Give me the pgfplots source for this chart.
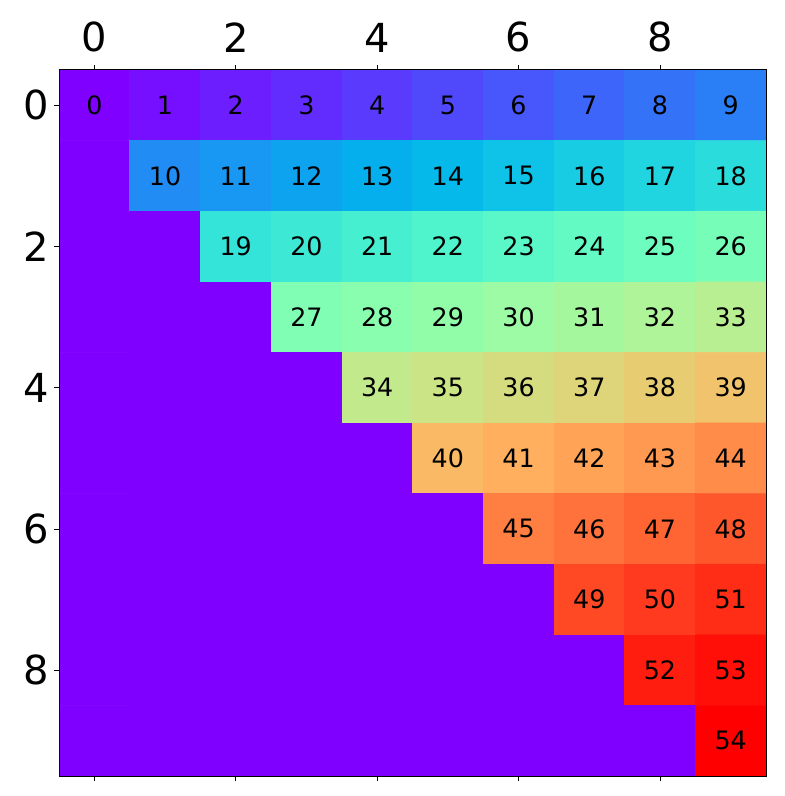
\documentclass[border=0pt]{standalone}
\usepackage{pgfplots}
\pgfplotsset{compat=1.18}
\usepackage{pgfplotstable}
\usepackage{fontspec}
\setmainfont{DejaVu Sans}

\pgfplotstableread{
x y c
0 0 0
1 0 1
2 0 2
3 0 3
4 0 4
5 0 5
6 0 6
7 0 7
8 0 8
9 0 9
0 1 0
1 1 10
2 1 11
3 1 12
4 1 13
5 1 14
6 1 15
7 1 16
8 1 17
9 1 18
0 2 0
1 2 0
2 2 19
3 2 20
4 2 21
5 2 22
6 2 23
7 2 24
8 2 25
9 2 26
0 3 0
1 3 0
2 3 0
3 3 27
4 3 28
5 3 29
6 3 30
7 3 31
8 3 32
9 3 33
0 4 0
1 4 0
2 4 0
3 4 0
4 4 34
5 4 35
6 4 36
7 4 37
8 4 38
9 4 39
0 5 0
1 5 0
2 5 0
3 5 0
4 5 0
5 5 40
6 5 41
7 5 42
8 5 43
9 5 44
0 6 0
1 6 0
2 6 0
3 6 0
4 6 0
5 6 0
6 6 45
7 6 46
8 6 47
9 6 48
0 7 0
1 7 0
2 7 0
3 7 0
4 7 0
5 7 0
6 7 0
7 7 49
8 7 50
9 7 51
0 8 0
1 8 0
2 8 0
3 8 0
4 8 0
5 8 0
6 8 0
7 8 0
8 8 52
9 8 53
0 9 0
1 9 0
2 9 0
3 9 0
4 9 0
5 9 0
6 9 0
7 9 0
8 9 0
9 9 54
}\matdata

\pgfplotstableread{
x y l
0 0 0
1 0 1
2 0 2
3 0 3
4 0 4
5 0 5
6 0 6
7 0 7
8 0 8
9 0 9
1 1 10
2 1 11
3 1 12
4 1 13
5 1 14
6 1 15
7 1 16
8 1 17
9 1 18
2 2 19
3 2 20
4 2 21
5 2 22
6 2 23
7 2 24
8 2 25
9 2 26
3 3 27
4 3 28
5 3 29
6 3 30
7 3 31
8 3 32
9 3 33
4 4 34
5 4 35
6 4 36
7 4 37
8 4 38
9 4 39
5 5 40
6 5 41
7 5 42
8 5 43
9 5 44
6 6 45
7 6 46
8 6 47
9 6 48
7 7 49
8 7 50
9 7 51
8 8 52
9 8 53
9 9 54
}\labdata

\begin{document}
\begin{tikzpicture}
\begin{axis}[
  scale only axis,
  width=530.25pt, height=529.5pt,
  xmin=-0.5, xmax=9.5, ymin=-0.5, ymax=9.5,
  y dir=reverse,
  axis on top,
  enlargelimits=false,
  xtick={0,2,4,6,8}, ytick={0,2,4,6,8},
  xtick pos=both, xticklabel pos=upper,
  ytick pos=left,
  tick align=outside,
  major tick length=3.7pt,
  every tick/.style={black, line width=0.6pt},
  axis line style={line width=0.75pt},
  tick label style={font=\fontsize{30}{36}\selectfont},
  xticklabel style={yshift=6pt},
  /pgf/number format/assume math mode=true,
  colormap={mplrainbow}{
    rgb=(0.5,0,1) rgb=(0.4,0.1564,0.9969) rgb=(0.3,0.3090,0.9877)
    rgb=(0.2,0.4540,0.9724) rgb=(0.1,0.5878,0.9511) rgb=(0,0.7071,0.9239)
    rgb=(0.1,0.8090,0.8910) rgb=(0.2,0.8910,0.8526) rgb=(0.3,0.9511,0.8090)
    rgb=(0.4,0.9877,0.7604) rgb=(0.5,1,0.7071) rgb=(0.6,0.9877,0.6494)
    rgb=(0.7,0.9511,0.5878) rgb=(0.8,0.8910,0.5225) rgb=(0.9,0.8090,0.4540)
    rgb=(1,0.7071,0.3827) rgb=(1,0.5878,0.3090) rgb=(1,0.4540,0.2334)
    rgb=(1,0.3090,0.1564) rgb=(1,0.1564,0.0785) rgb=(1,0,0)
  },
  point meta min=0, point meta max=54,
]
\addplot[matrix plot*, mesh/cols=10, point meta=explicit, draw=mapped color, line width=0.4pt] table[x=x, y=y, meta=c] {\matdata};
\addplot[only marks, mark=*, mark size=0pt, mark options={draw opacity=0, fill opacity=0},
  nodes near coords, point meta=explicit symbolic,
  nodes near coords style={anchor=center, text=black, text opacity=1, font=\fontsize{19}{23}\selectfont}]
  table[x=x, y=y, meta=l] {\labdata};
\end{axis}
\pgfresetboundingbox
\path ([xshift=-44.25pt, yshift=-15pt]current axis.south west) rectangle ([xshift=13.5pt, yshift=52.5pt]current axis.north east);
\end{tikzpicture}
\end{document}
